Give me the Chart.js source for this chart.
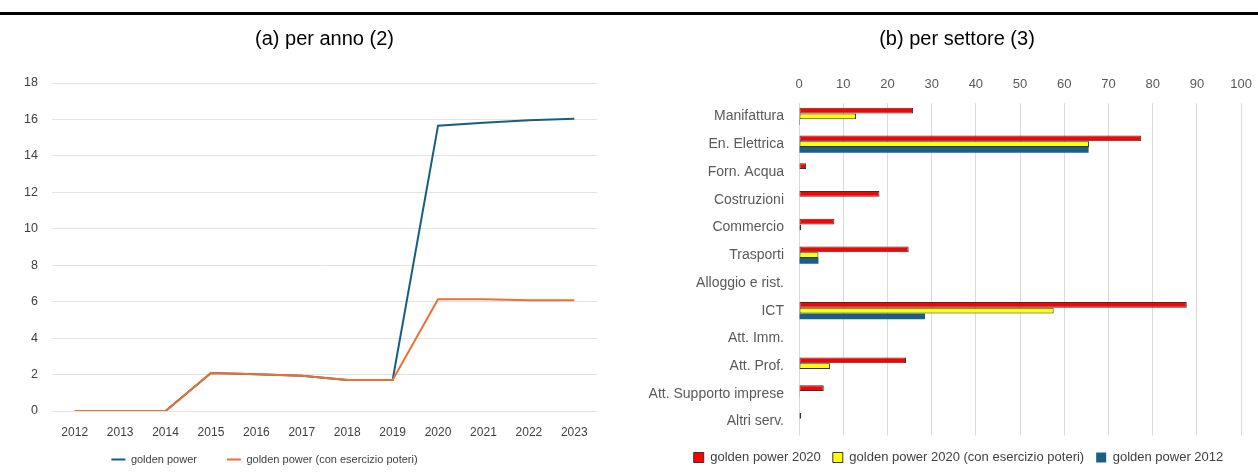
<!DOCTYPE html>
<html>
<head>
<meta charset="utf-8">
<script src="https://cdn.jsdelivr.net/npm/chart.js@4/dist/chart.umd.min.js"></script>
<style>
  html, body { margin: 0; padding: 0; background: #fff; }
  body { width: 1258px; height: 475px; position: relative; overflow: hidden; }
  #riga { position: absolute; left: 0; top: 12px; width: 1258px; height: 3px; background: #000; }
  #box1 { position: absolute; left: 0; top: 0; width: 630px; height: 475px; }
  #box2 { position: absolute; left: 630px; top: 0; width: 632px; height: 475px; }
</style>
</head>
<body>
<div id="riga"></div>
<div id="box1"><canvas id="graficoAnno"></canvas></div>
<div id="box2"><canvas id="graficoSettore"></canvas></div>
<script>
// (a) per anno
const anni = ['2012', '2013', '2014', '2015', '2016', '2017', '2018', '2019', '2020', '2021', '2022', '2023'];
const goldenPower = [0, 0, 0, 2.08, 2.02, 1.94, 1.7, 1.7, 15.66, 15.82, 15.95, 16.04];
const goldenPowerEsercizio = [0, 0, 0, 2.08, 2.02, 1.94, 1.7, 1.7, 6.13, 6.13, 6.08, 6.08];

// (b) per settore
const settori = ['Manifattura', 'En. Elettrica', 'Forn. Acqua', 'Costruzioni', 'Commercio', 'Trasporti',
  'Alloggio e rist.', 'ICT', 'Att. Imm.', 'Att. Prof.', 'Att. Supporto imprese', 'Altri serv.'];
const gp2020 = [25.8, 77.4, 1.6, 18.2, 8.0, 24.8, 0, 87.7, 0, 24.2, 5.6, 0.5];
const gp2020Esercizio = [12.9, 65.6, 0, 0, 0.5, 4.4, 0, 57.6, 0, 7.0, 0.2, 0];
const gp2012 = [0.2, 65.5, 0, 0, 0, 4.4, 0, 28.5, 0, 0, 0, 0];

Chart.defaults.font.family = "'Liberation Sans', Arial, sans-serif";
Chart.defaults.animation = false;
Chart.defaults.responsive = true;
Chart.defaults.maintainAspectRatio = false;

// sposta titolo e legenda (non centrati sul canvas)
const sposta = {
  id: 'sposta',
  afterLayout(chart, args, opts) {
    if (opts.titoloLeft != null) chart.titleBlock.left = opts.titoloLeft;
    if (opts.legendaLeft != null) chart.legend.left = opts.legendaLeft;
    if (opts.legendaRight != null) chart.legend.right = opts.legendaRight;
    if (opts.legendaTop != null) chart.legend.top = opts.legendaTop;
  }
};

new Chart(document.getElementById('graficoAnno'), {
  type: 'line',
  plugins: [sposta],
  data: {
    labels: anni,
    datasets: [
      { label: 'golden power', data: goldenPower, borderColor: '#156082', backgroundColor: '#156082',
        borderWidth: 2, pointRadius: 0, order: 1 },
      { label: 'golden power (con esercizio poteri)', data: goldenPowerEsercizio, borderColor: '#E97132',
        backgroundColor: '#E97132', borderWidth: 2, pointRadius: 0, order: 0 }
    ]
  },
  options: {
    layout: { padding: { left: 0, right: 33, bottom: 0 } },
    plugins: {
      title: { display: true, text: '(a) per anno (2)', color: '#000',
        font: { size: 20, weight: 'normal' }, padding: { top: 27, bottom: 32 } },
      legend: { position: 'bottom', maxHeight: 21.6,
        labels: { usePointStyle: true, pointStyle: 'line', pointStyleWidth: 14, boxHeight: 10,
          color: '#404040', font: { size: 11 }, padding: 30,
          sort: (a, b) => a.datasetIndex - b.datasetIndex } },
      sposta: { titoloLeft: 52, legendaRight: 529, legendaTop: 424 },
      tooltip: { enabled: false }
    },
    scales: {
      x: { offset: true, grid: { display: false, drawTicks: false }, border: { display: false },
        ticks: { color: '#404040', font: { size: 12 }, padding: 14, maxRotation: 0 } },
      y: { min: 0, max: 18, grid: { color: '#e3e3e3', drawTicks: false }, border: { display: false },
        ticks: { stepSize: 2, color: '#404040', font: { size: 12.5 }, padding: 14 },
        afterFit: s => { s.width = 52; } }
    }
  }
});

new Chart(document.getElementById('graficoSettore'), {
  type: 'bar',
  plugins: [sposta],
  data: {
    labels: settori,
    datasets: [
      { label: 'golden power 2020', data: gp2020, backgroundColor: '#ff0000', borderColor: '#333',
        borderWidth: 1, borderSkipped: false },
      { label: 'golden power 2020 (con esercizio poteri)', data: gp2020Esercizio, backgroundColor: '#ffff00',
        borderColor: '#333', borderWidth: 1, borderSkipped: false },
      { label: 'golden power 2012', data: gp2012, backgroundColor: '#1a5f84', borderWidth: 0 }
    ]
  },
  options: {
    indexAxis: 'y',
    datasets: { bar: { categoryPercentage: 0.62, barPercentage: 1 } },
    layout: { padding: { left: 0, right: 13, bottom: 1 } },
    plugins: {
      title: { display: true, text: '(b) per settore (3)', color: '#000',
        font: { size: 20, weight: 'normal' }, padding: { top: 27, bottom: 16 } },
      legend: { position: 'bottom',
        labels: { boxWidth: 10, boxHeight: 10, color: '#404040', font: { size: 13 }, padding: 12 } },
      sposta: { titoloLeft: 35, legendaLeft: 38 },
      tooltip: { enabled: false }
    },
    scales: {
      x: { position: 'top', min: 0, max: 100, grid: { color: '#d9d9d9', drawTicks: false },
        border: { display: false },
        ticks: { stepSize: 10, color: '#595959', font: { size: 13 }, padding: 10 } },
      // asse vuoto: solo spazio sotto le barre
      x2: { type: 'linear', position: 'bottom', grid: { display: false, drawTicks: false },
        border: { display: false }, ticks: { display: false },
        afterFit: s => { s.height = 3.5; } },
      y: { grid: { display: false }, border: { display: false },
        ticks: { color: '#595959', font: { size: 14 }, padding: 7, autoSkip: false },
        afterFit: s => { s.width = 169; } }
    }
  }
});
</script>
</body>
</html>
